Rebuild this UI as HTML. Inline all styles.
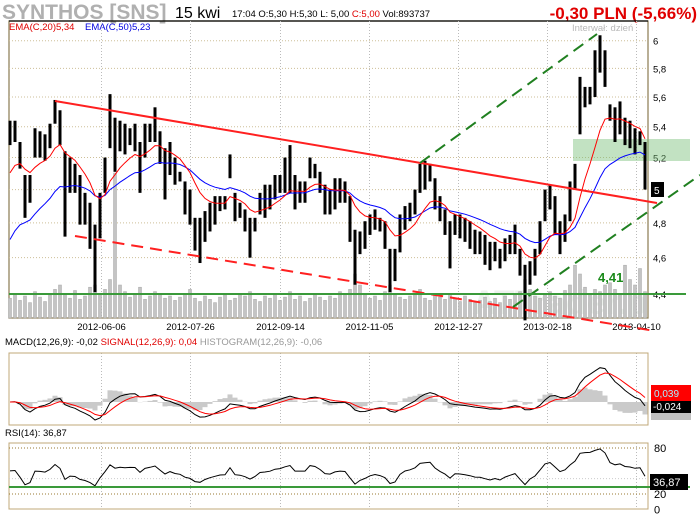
<!DOCTYPE html>
<html><head><meta charset="utf-8"><style>
body{margin:0;background:#fff;width:700px;height:522px;overflow:hidden;font-family:"Liberation Sans",sans-serif}
svg text{font-family:"Liberation Sans",sans-serif}
</style></head><body>
<svg id="c" width="700" height="522" xmlns="http://www.w3.org/2000/svg">
<defs><clipPath id="mainclip"><rect x="9" y="21" width="639" height="297"/></clipPath></defs>
<text x="2" y="19" font-size="21" font-weight="bold" fill="#b0b0b0">SYNTHOS [SNS]</text>
<text x="175" y="18" font-size="16" fill="#000">15 kwi</text>
<text x="232" y="17" font-size="9.5" fill="#000">17:04  O:5,30 H:5,30 L: 5,00 <tspan fill="#e00000">C:5,00</tspan> Vol:893737</text>
<text x="697" y="19" font-size="17" font-weight="bold" fill="#e00000" text-anchor="end">-0,30 PLN (-5,66%)</text>
<text x="9" y="30" font-size="9.5" fill="#e00000">EMA(C,20)5,34</text>
<text x="85" y="30" font-size="9.5" fill="#0000e0">EMA(C,50)5,23</text>
<text x="572" y="31" font-size="9.5" fill="#b8b8b8">Interwał: dzień</text>
<text x="472" y="314" font-size="34" font-weight="bold" fill="#eef2ee" clip-path="url(#mainclip)">ATTrader.pl</text>
<g id="g"></g>
</svg>
<script>
const highs=[5.44,5.44,5.30,5.09,5.09,5.39,5.37,5.35,5.42,5.58,5.51,5.24,5.20,5.16,5.09,4.98,4.92,4.79,4.98,5.20,5.62,5.46,5.44,5.42,5.39,5.42,5.30,5.42,5.42,5.53,5.37,5.26,5.30,5.20,5.11,5.05,5.00,4.83,4.83,4.87,4.92,4.96,4.96,4.96,5.22,4.98,4.92,4.88,4.83,4.83,4.98,5.03,5.03,5.09,5.09,5.20,5.28,5.09,5.05,5.05,5.20,5.16,5.11,5.03,5.00,5.07,5.07,5.05,4.96,4.76,4.75,4.81,4.85,4.88,4.83,4.81,4.65,4.65,4.85,4.90,4.92,5.00,5.16,5.18,5.16,5.07,4.96,4.88,4.81,4.85,4.85,4.83,4.81,4.76,4.75,4.73,4.69,4.69,4.65,4.71,4.73,4.79,4.65,4.56,4.58,4.65,4.81,5.00,5.03,4.96,4.81,4.85,5.05,5.16,5.74,5.67,5.67,5.93,6.04,5.93,5.55,5.53,5.57,5.46,5.44,5.39,5.37,5.30];
const lows=[5.28,5.30,5.13,4.83,4.92,5.20,5.20,5.18,5.26,5.42,5.28,4.72,4.98,4.98,4.79,4.79,4.65,4.41,4.71,4.98,5.26,5.11,5.24,5.22,5.28,5.24,4.98,5.20,5.30,5.30,5.16,4.94,5.09,5.03,5.05,4.85,4.79,4.64,4.57,4.69,4.75,4.79,4.87,4.88,5.07,4.81,4.83,4.75,4.60,4.75,4.85,4.83,4.88,4.94,4.98,4.98,4.98,4.88,4.92,4.92,5.07,5.07,4.98,4.85,4.85,4.88,4.92,4.92,4.69,4.45,4.62,4.65,4.73,4.76,4.75,4.65,4.41,4.47,4.63,4.76,4.81,4.85,4.98,5.00,5.05,4.88,4.81,4.73,4.54,4.73,4.71,4.69,4.65,4.62,4.62,4.56,4.53,4.58,4.54,4.58,4.62,4.62,4.50,4.26,4.45,4.50,4.62,4.81,4.88,4.73,4.62,4.69,4.81,5.00,5.35,5.53,5.55,5.60,5.77,5.67,5.44,5.30,5.35,5.28,5.26,5.22,5.28,5.00];
const volumes=[18,22,16,20,14,24,19,15,21,26,30,22,18,25,17,20,28,30,22,26,35,100,30,24,19,22,28,17,20,24,22,18,20,16,19,22,26,18,15,20,17,14,19,21,16,18,22,20,24,17,15,20,18,22,16,19,24,17,20,15,18,22,19,16,20,18,24,22,26,40,30,22,18,20,16,24,30,22,19,17,20,22,26,18,16,21,19,17,22,18,15,20,17,14,16,19,15,18,14,20,17,22,24,35,26,20,18,22,24,20,18,25,30,48,40,28,22,26,24,30,32,26,22,48,35,30,45,24];
const dateLabels=["2012-06-06","2012-07-26","2012-09-14","2012-11-05","2012-12-27","2013-02-18","2013-04-10"];
const dateIdx=[18.3,36.1,54.1,71.9,89.7,107.5,125.3];
const priceTicks=[4.4,4.6,4.8,5.0,5.2,5.4,5.6,5.8,6.0];
const priceTickLabels=["4,4","4,6","4,8","5","5,2","5,4","5,6","5,8","6"];
const emaSeeds=[5.05,4.65];
const rsiTicks=[0,20,80];

const NS="http://www.w3.org/2000/svg";
const G=document.getElementById('g');
function el(t,a,txt){const e=document.createElementNS(NS,t);for(const k in a)e.setAttribute(k,a[k]);if(txt!==undefined)e.textContent=txt;G.appendChild(e);return e;}
const X=i=>10+5*i;
const Y=p=>40.7+816.6*Math.log(6/p);
const L=9,R=648,T=21,B=318;
const closes=highs.map((h,i)=>i===highs.length-1?5.0:(h+lows[i])/2);
function ema(arr,n,seed){const a=2/(n+1);let v=seed;return arr.map(c=>v=v+a*(c-v));}
let e;
e=el('rect',{x:L,y:T,width:R-L,height:B-T,fill:'none',stroke:'#8a7a50','stroke-width':1.2});

el('line',{x1:L,y1:T,x2:R,y2:T,stroke:'#000','stroke-width':1.2});
priceTicks.forEach((p,k)=>{
 e=el('line',{x1:L,y1:Y(p),x2:R,y2:Y(p),stroke:'#cdbf98','stroke-dasharray':'1,2'});
 
 e=el('text',{x:R+5,y:Y(p)+4,'font-size':9.5,fill:'#000'},priceTickLabels[k]);
 
});
dateIdx.forEach((d,k)=>{
 [[T,B],[353,425],[443,509]].forEach(r=>{e=el('line',{x1:X(d),y1:r[0],x2:X(d),y2:r[1],stroke:'#bbb','stroke-dasharray':'1,2'});
 });
 e=el('text',{x:X(d),y:330,'font-size':9.5,'text-anchor':'middle',fill:'#000'},dateLabels[k]);
 
});
const vmax=Math.max(...volumes);
volumes.forEach((v,i)=>{const h=v>=vmax?145:v/vmax*110;
 e=el('rect',{x:X(i)-1.5,y:B-h,width:3,height:h,fill:'#c4c4c4',stroke:'#a8a8a8','stroke-width':0.5});
 });
e=el('rect',{x:573,y:139,width:117,height:22,fill:'rgba(120,190,120,0.45)'});

highs.forEach((h,i)=>{
 e=el('line',{x1:X(i),y1:Y(h),x2:X(i),y2:Y(lows[i]),stroke:'#000','stroke-width':3});
 });
function poly(vals,yf,col,name,w){const pts=vals.map((v,i)=>X(i)+','+yf(v).toFixed(1)).join(' ');
 const p=el('polyline',{points:pts,fill:'none',stroke:col,'stroke-width':w||1});
 return p;}
poly(ema(closes,25.5,emaSeeds[1]),Y,'#0000ff','ema50-line');
poly(ema(closes,10.5,emaSeeds[0]),Y,'#ff0000','ema20-line');
function ln(x1,y1,x2,y2,col,dash,name,w){e=el('line',{x1,y1,x2,y2,stroke:col,'stroke-width':w||2});if(dash)e.setAttribute('stroke-dasharray',dash);
 }
ln(55,101,657,203,'#ff2020',null,'resistance-line');
ln(75,236,655,331,'#ff2020','12,7','lower-channel-line');
ln(420,163,597,34,'#208020','12,7','upper-green-channel');
ln(513,307,700,175,'#208020','12,7','lower-green-channel');
ln(L,294,686,294,'#3a9a3a',null,'support-level-line',2);
e=el('text',{x:598,y:282,'font-size':13,'font-weight':'bold',fill:'#1a8a1a'},'4,41');

e=el('rect',{x:651,y:182,width:13,height:15,fill:'#000'});

e=el('text',{x:654,y:194,'font-size':10,fill:'#fff'},'5');


const m1=ema(closes,6.5,closes[0]),m2=ema(closes,13.5,closes[0]);
const macd=m1.map((v,i)=>v-m2[i]);
const sig=ema(macd,5,0);
const hist=macd.map((v,i)=>v-sig[i]);
const mmax=Math.max(...macd,...sig),mmin=Math.min(...macd,...sig);
const k=Math.min(44/mmax,18/-mmin);
const MY=v=>402-v*k;
e=el('text',{x:5,y:345,'font-size':9.5,fill:'#000'});e.innerHTML='MACD(12,26,9): -0,02 <tspan fill="#e00000">SIGNAL(12,26,9): 0,04</tspan> <tspan fill="#999">HISTOGRAM(12,26,9): -0,06</tspan>';

e=el('rect',{x:L,y:353,width:R-L,height:72,fill:'none',stroke:'#c0a878'});

hist.forEach((h,i)=>{const y=MY(h*1.5),y0=MY(0);
 e=el('rect',{x:X(i)-2.5,y:Math.min(y,y0),width:5,height:Math.abs(y-y0),fill:'#cacaca'});
 });
poly(macd,MY,'#000','macd-line');
poly(sig,MY,'#ff0000','signal-line');
e=el('rect',{x:651,y:408,width:40,height:12,fill:'#c0c0c0'});
e=el('rect',{x:651,y:398,width:40,height:15,fill:'#000'});
e=el('text',{x:653,y:410,'font-size':10,fill:'#fff'},'-0,024');
e=el('rect',{x:651,y:385,width:40,height:16,fill:'#ff0000'});
e=el('text',{x:654,y:397,'font-size':10,fill:'#aef'},'0,039');

const rsi=[];let ag=0.03,al=0.03;
closes.forEach((c,i)=>{if(i>0){const d=c-closes[i-1];ag=(ag*13+Math.max(d,0))/14;al=(al*13+Math.max(-d,0))/14;}rsi.push(100-100/(1+ag/al));});
const RY=v=>509.3-v*0.767;
e=el('text',{x:5,y:436,'font-size':9.5,fill:'#000'},'RSI(14): 36,87');
e=el('rect',{x:L,y:443,width:R-L,height:66,fill:'none',stroke:'#c0a878'});
rsiTicks.forEach(t=>{if(t>0){e=el('line',{x1:L,y1:RY(t),x2:R,y2:RY(t),stroke:'#9a7a30','stroke-dasharray':'1,2'});}
 e=el('text',{x:654,y:RY(t)+4,'font-size':11,fill:'#000'},String(t));});
e=el('line',{x1:L,y1:RY(40),x2:R,y2:RY(40),stroke:'#ccc','stroke-dasharray':'1,2'});
poly(rsi,RY,'#000','rsi-line');
ln(L,487,690,487,'#3a9a3a',null,'rsi-support-line',2);
e=el('rect',{x:650,y:474,width:38,height:16,fill:'#000'});
e=el('text',{x:653,y:486,'font-size':11,fill:'#fff'},'36,87');
</script>
</body></html>
